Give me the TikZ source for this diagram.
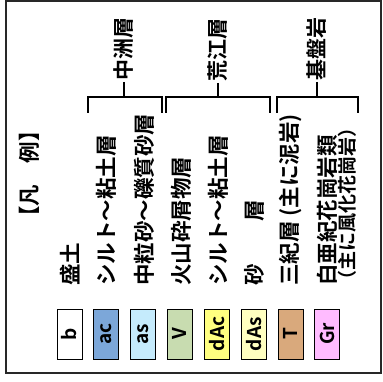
\documentclass[tikz,border=0pt]{standalone}
\usepackage{fontspec}
\setmainfont{Liberation Sans}
\newfontfamily\jp{Noto Sans CJK JP}[BoldFont={* Bold}]
\definecolor{cac}{RGB}{124,167,217}
\definecolor{cas}{RGB}{197,235,252}
\definecolor{cv}{RGB}{200,220,176}
\definecolor{cdac}{RGB}{255,255,128}
\definecolor{cdas}{RGB}{255,255,192}
\definecolor{ct}{RGB}{217,169,124}
\definecolor{cgr}{RGB}{255,187,255}
\definecolor{framecol}{RGB}{40,40,40}
\begin{document}
\begin{tikzpicture}[x=1pt,y=-1pt,
  swatch/.style={draw=black, line width=0.9pt, rotate=90, minimum width=50pt, minimum height=25pt, inner sep=0pt, font=\jp\bfseries\fontsize{19}{19}\selectfont},
  lbl/.style={rotate=90, anchor=west, inner sep=0pt, font=\jp\bfseries\fontsize{21.5}{22}\selectfont},
  sublbl/.style={rotate=90, anchor=west, inner sep=0pt, font=\jp\bfseries\fontsize{19}{19}\selectfont},
  grp/.style={rotate=90, anchor=west, inner sep=1.5pt, font=\jp\bfseries\fontsize{21}{21}\selectfont},
  br/.style={line width=1.1pt, black}]
\useasboundingbox (0,0) rectangle (383,382);
\draw[framecol, line width=1.5pt] (6,1) rectangle (381,373);
% legend title
\node[lbl] (title) at (29,228) {【凡　例】};
% swatches
\node[swatch, fill=white] (sb) at (69.5,334) {b};
\node[swatch, fill=cac] (sac) at (106,334) {ac};
\node[swatch, fill=cas] (sas) at (143,334) {as};
\node[swatch, fill=cv] (sv) at (179.5,334) {V};
\node[swatch, fill=cdac] (sdac) at (217,334) {dAc};
\node[swatch, fill=cdas] (sdas) at (254,334) {dAs};
\node[swatch, fill=ct] (st) at (290.5,334) {T};
\node[swatch, fill=cgr] (sgr) at (327,334) {Gr};
% texts
\node[lbl] (t1) at (70,286) {盛土};
\node[lbl] (t2) at (106,286) {シルト～粘土層};
\node[lbl] (t3) at (144,286) {中粒砂～礫質砂層};
\node[lbl] (t4) at (181,286) {火山砕屑物層};
\node[lbl] (t5) at (218,286) {シルト～粘土層};
\node[lbl] (t6) at (254,286) {砂　　層};
\node[lbl] (t7) at (291,286) {三紀層 (主に泥岩)};
\node[lbl] (t8) at (327,286) {白亜紀花崗岩類};
\node[sublbl] (t9) at (347,290) {（主に風化花崗岩）};
% group labels
\node[grp] (g1) at (124,82) {中洲層};
\node[grp] (g2) at (218,83) {荒江層};
\node[grp] (g3) at (317,82) {基盤岩};
% brackets
\coordinate (m1) at (124,97); \coordinate (l1) at (88,97); \coordinate (r1) at (162,97);
\coordinate (l1b) at (88,113); \coordinate (r1b) at (162,113);
\coordinate (m2) at (218,97); \coordinate (l2) at (166,97); \coordinate (r2) at (270,97);
\coordinate (l2b) at (166,113); \coordinate (r2b) at (270,113);
\coordinate (m3) at (317,97); \coordinate (l3) at (277,97); \coordinate (r3) at (358,97);
\coordinate (l3b) at (277,113); \coordinate (r3b) at (358,113);
\draw[br] (l1b) -- (l1) -- (r1) -- (r1b);
\draw[br] (g1.west) -- (m1);
\draw[br] (l2b) -- (l2) -- (r2) -- (r2b);
\draw[br] (g2.west) -- (m2);
\draw[br] (l3b) -- (l3) -- (r3) -- (r3b);
\draw[br] (g3.west) -- (m3);
\end{tikzpicture}
\end{document}
